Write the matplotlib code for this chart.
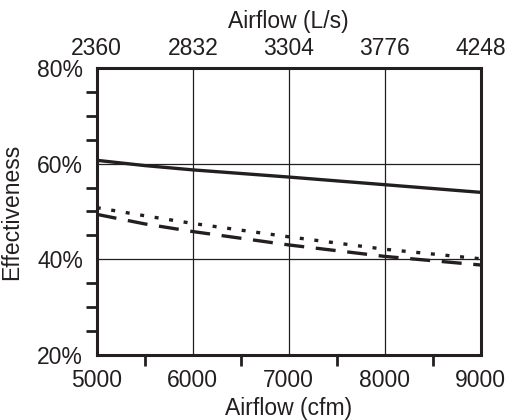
import numpy as np
import matplotlib
matplotlib.use("Agg")
import matplotlib.pyplot as plt
from matplotlib.ticker import MultipleLocator, FixedLocator

plt.rcParams['font.family'] = ['Liberation Sans', 'DejaVu Sans']

## Data
airflow_cfm = [5000, 5500, 6000, 7000, 8000, 9000]
solid_eff = [60.7, 59.6, 58.7, 57.2, 55.6, 54.0]
dotted_eff = [50.8, 49.1, 47.5, 44.7, 42.1, 40.1]
dashed_eff = [49.4, 47.4, 45.8, 43.0, 40.6, 38.8]

top_ticks = [5000, 6000, 7000, 8000, 9000]
top_labels = ["2360", "2832", "3304", "3776", "4248"]

fs = 16.5
ink = '#231f20'

fig = plt.figure(figsize=(5.12, 4.2), dpi=100)
ax = fig.add_axes([0.189, 0.155, 0.75, 0.683])

ax.plot(airflow_cfm, solid_eff, color=ink, lw=2.4, solid_capstyle='butt')
ax.plot(airflow_cfm, dotted_eff, color=ink, lw=2.4, dashes=(1.2, 3.2))
ax.plot(airflow_cfm, dashed_eff, color=ink, lw=2.4, dashes=(6, 3.5))

ax.set_xlim(5000, 9000)
ax.set_ylim(20, 80)
ax.xaxis.set_major_locator(MultipleLocator(1000))
ax.xaxis.set_minor_locator(FixedLocator([5500, 6500, 7500, 8500]))
ax.yaxis.set_major_locator(MultipleLocator(20))
ax.yaxis.set_minor_locator(MultipleLocator(5))
ax.yaxis.set_major_formatter(lambda v, p: f"{v:.0f}%")
ax.grid(True, which='major', color=ink, lw=0.9)

ax.tick_params(which='major', length=0, labelsize=fs, labelcolor=ink)
ax.tick_params(axis='y', which='major', pad=10)
ax.tick_params(axis='x', which='major', pad=10)
ax.tick_params(which='minor', length=8, width=2, direction='out', color=ink)
for s in ax.spines.values():
    s.set_linewidth(2.2)
    s.set_color(ink)

ax.set_xlabel("Airflow (cfm)", fontsize=fs, labelpad=4, color=ink)
ax.set_ylabel("Effectiveness", fontsize=fs, labelpad=10, color=ink)

top = ax.secondary_xaxis('top')
top.set_xticks(top_ticks)
top.set_xticklabels(top_labels)
top.tick_params(length=0, labelsize=fs, pad=6, labelcolor=ink)
top.set_xlabel("Airflow (L/s)", fontsize=fs, labelpad=6, color=ink)

fig.savefig("out.png", dpi=100)
